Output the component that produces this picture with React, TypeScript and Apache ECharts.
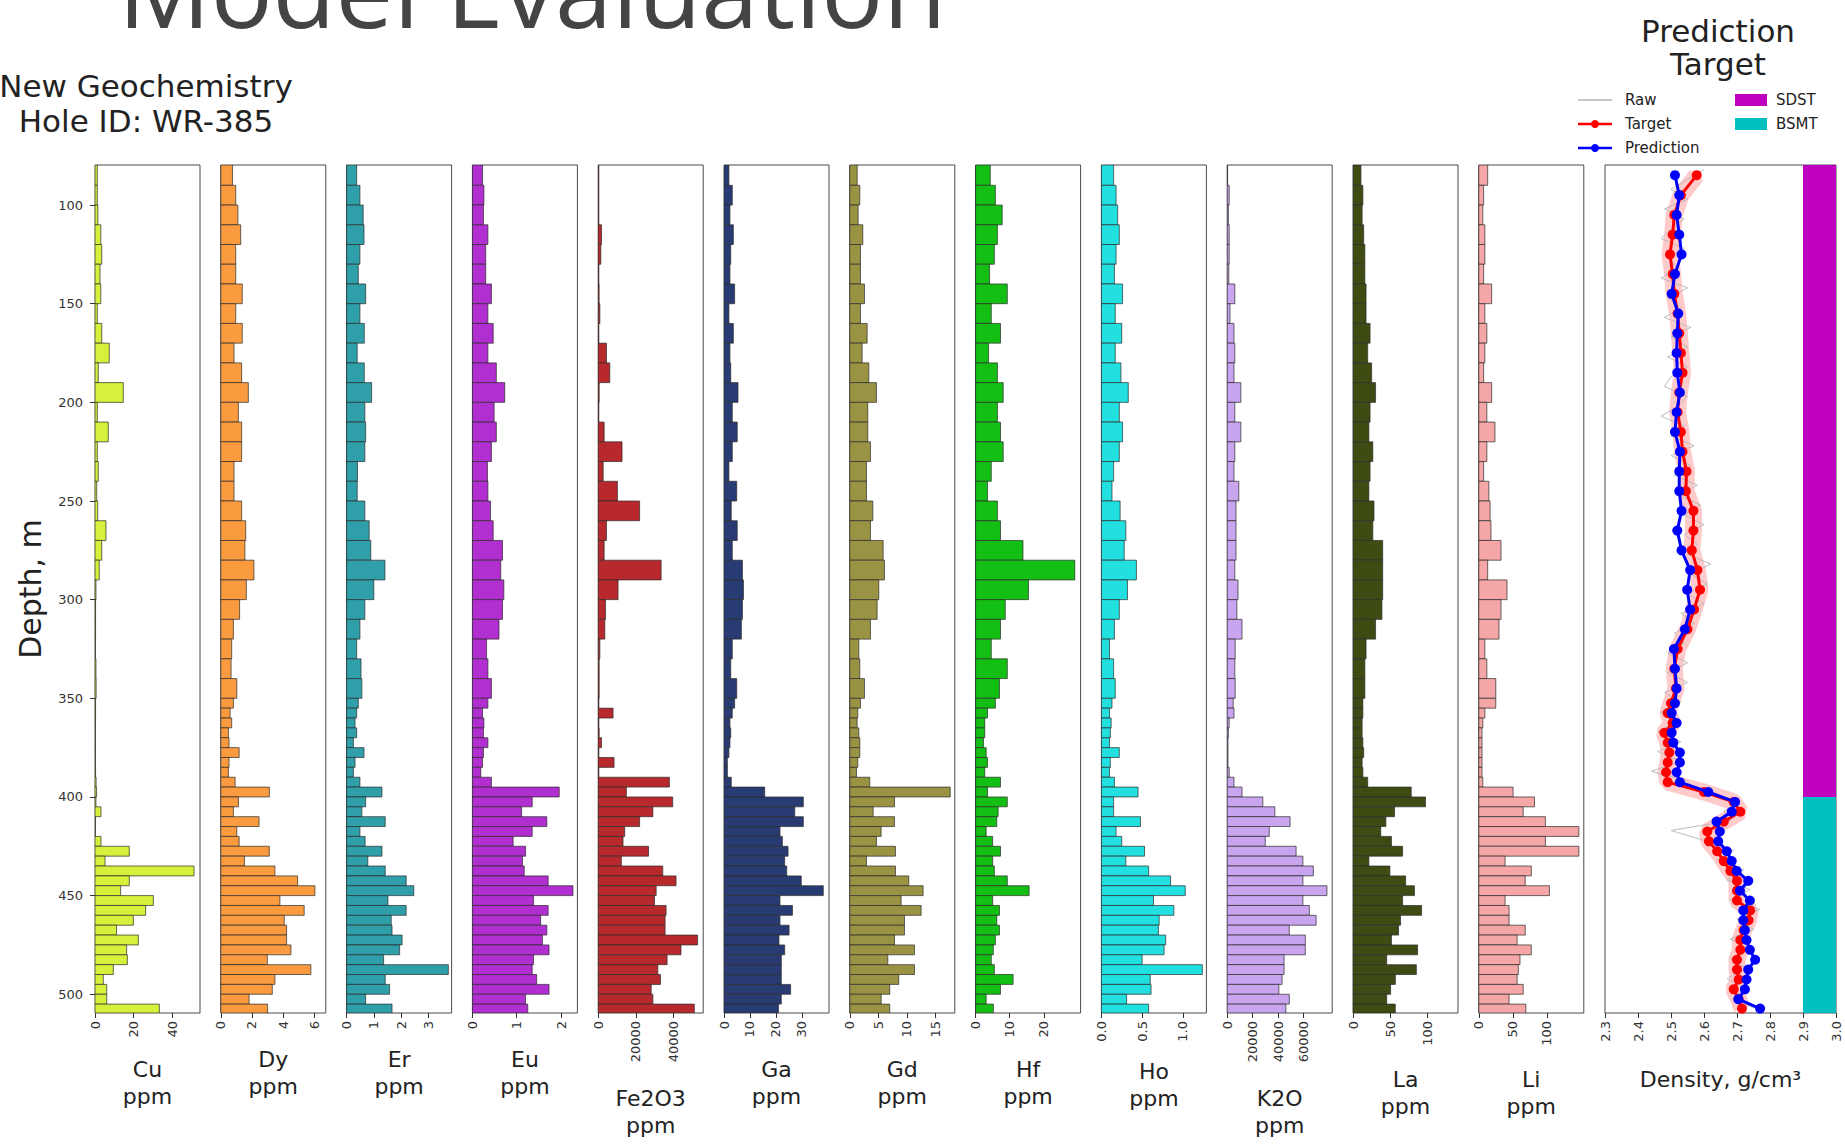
import { useEffect, useRef } from "react";
import * as echarts from "echarts";

const FONT = '"DejaVu Sans", "Liberation Sans", sans-serif';

// Sample intervals (depth, m): 10 m composites down to 350 m, 5 m composites below
const binEdges = [
  79.7, 90, 100, 110, 120, 130, 140, 150, 160, 170, 180, 190, 200, 210, 220, 230, 240, 250, 260,
  270, 280, 290, 300, 310, 320, 330, 340, 350, 355, 360, 365, 370, 375, 380, 385, 390, 395, 400,
  405, 410, 415, 420, 425, 430, 435, 440, 445, 450, 455, 460, 465, 470, 475, 480, 485, 490, 495,
  500, 505, 509.5,
];

// Assays per interval (ppm)
const cu = [
  1.2, 1.2, 1.5, 3.0, 3.5, 2.6, 3.0, 1.2, 3.5, 7.4, 1.7, 14.7, 1.2, 6.9, 1.2, 1.7, 0.9, 1.4, 5.7, 3.5, 2.2, 0.5, 0.3, 0.3, 0.2, 0.5, 0.6,
  0.3, 0.3, 0.2, 0.2, 0.2, 0.2, 0.2, 0.3, 0.6, 0.8, 0.5, 3.1, 0.2, 0.2, 3.1, 17.8, 5.2, 51.4, 17.8, 13.3, 30.3, 26.3, 19.9, 11.2, 22.5, 16.4, 16.8, 9.5, 4.3, 6.1, 6.1, 33.4,
];
const dy = [
  0.75, 0.96, 1.1, 1.28, 0.96, 0.96, 1.38, 0.96, 1.38, 0.85, 1.34, 1.77, 1.13, 1.34, 1.34, 0.85, 0.85, 1.34, 1.6, 1.55, 2.13, 1.64, 1.21, 0.81, 0.7, 0.66, 1.03,
  0.81, 0.6, 0.7, 0.49, 0.53, 1.18, 0.53, 0.49, 0.92, 3.12, 1.13, 0.81, 2.46, 1.03, 1.18, 3.12, 1.52, 3.48, 4.94, 6.05, 3.8, 5.36, 4.08, 4.23, 4.23, 4.51, 2.99, 5.79, 3.48, 3.31, 1.82, 3.01,
];
const er = [
  0.37, 0.49, 0.61, 0.64, 0.49, 0.43, 0.7, 0.49, 0.65, 0.39, 0.65, 0.92, 0.67, 0.7, 0.67, 0.4, 0.39, 0.67, 0.83, 0.89, 1.41, 1.0, 0.67, 0.49, 0.37, 0.53, 0.56,
  0.43, 0.37, 0.31, 0.37, 0.25, 0.64, 0.31, 0.25, 0.49, 1.3, 0.7, 0.56, 1.42, 0.49, 0.68, 1.3, 0.78, 1.42, 2.19, 2.47, 1.52, 2.19, 1.64, 1.67, 2.04, 1.95, 1.36, 3.74, 1.42, 1.58, 0.7, 1.67,
];
const eu = [
  0.23, 0.26, 0.25, 0.35, 0.3, 0.3, 0.43, 0.35, 0.47, 0.35, 0.54, 0.73, 0.49, 0.54, 0.43, 0.34, 0.35, 0.41, 0.47, 0.68, 0.64, 0.71, 0.68, 0.6, 0.32, 0.35, 0.43,
  0.35, 0.23, 0.26, 0.25, 0.35, 0.25, 0.23, 0.19, 0.43, 1.96, 1.35, 1.11, 1.68, 1.35, 0.92, 1.2, 1.13, 1.17, 1.71, 2.27, 1.38, 1.71, 1.54, 1.68, 1.58, 1.73, 1.38, 1.35, 1.45, 1.73, 1.2, 1.25,
];
const fe2o3 = [
  350, 350, 350, 1757, 1400, 350, 500, 880, 350, 4400, 6150, 530, 350, 3160, 12650, 2640, 10190, 21960, 4390, 3160, 33380, 10540, 3870, 3510, 880, 530, 530,
  350, 7900, 350, 530, 1760, 350, 8430, 350, 37780, 14930, 39530, 28990, 21960, 14060, 13180, 26710, 12300, 34260, 41290, 30750, 29870, 36020, 35490, 35490, 52710, 43930, 36550, 31630, 33030, 28110, 29000, 51000,
];
const ga = [
  1.9, 3.2, 2.3, 3.6, 2.6, 2.3, 4.1, 1.9, 3.6, 2.3, 2.6, 5.4, 3.2, 5.1, 3.2, 1.9, 4.9, 2.8, 5.1, 3.2, 7.1, 7.5, 7.1, 6.7, 3.2, 2.6, 4.9,
  4.1, 3.2, 2.3, 2.6, 2.3, 1.9, 1.3, 1.3, 2.8, 15.7, 30.6, 27.3, 30.6, 21.6, 22.5, 24.7, 23.4, 24.2, 29.8, 38.3, 21.6, 26.4, 21.6, 25.1, 21.2, 23.4, 22.1, 22.1, 22.1, 25.7, 22.1, 21.0,
];
const gd = [
  1.3, 1.75, 1.46, 2.28, 1.87, 1.87, 2.57, 1.87, 3.04, 2.16, 3.33, 4.67, 3.15, 3.15, 3.62, 2.92, 2.92, 4.03, 3.62, 5.84, 6.07, 5.08, 4.79, 3.62, 1.58, 1.75, 2.57,
  1.87, 1.4, 1.28, 1.58, 1.75, 1.75, 1.4, 1.17, 3.5, 17.6, 7.83, 4.09, 7.83, 5.49, 4.67, 8.0, 2.92, 8.0, 10.34, 12.85, 8.99, 12.5, 9.58, 9.58, 7.83, 11.33, 6.66, 11.33, 8.58, 7.0, 5.5, 7.0,
];
const hf = [
  4.3, 5.8, 7.8, 6.4, 5.5, 4.1, 9.3, 4.6, 7.3, 3.8, 6.4, 8.1, 6.4, 7.3, 8.1, 4.6, 3.5, 6.4, 7.3, 13.9, 29.1, 15.5, 8.7, 7.3, 4.6, 9.3, 7.0,
  5.8, 3.5, 2.7, 2.7, 2.3, 3.1, 3.5, 2.7, 7.3, 3.5, 9.3, 6.6, 6.2, 3.1, 5.0, 7.3, 5.0, 5.5, 9.3, 15.7, 5.0, 7.0, 6.2, 7.0, 5.8, 5.2, 4.6, 5.5, 11.0, 7.3, 3.1, 5.2,
];
const ho = [
  0.15, 0.18, 0.2, 0.22, 0.18, 0.16, 0.26, 0.17, 0.25, 0.17, 0.24, 0.33, 0.22, 0.26, 0.22, 0.15, 0.13, 0.23, 0.3, 0.28, 0.43, 0.32, 0.22, 0.16, 0.1, 0.15, 0.17,
  0.13, 0.1, 0.12, 0.11, 0.1, 0.22, 0.11, 0.1, 0.16, 0.45, 0.15, 0.15, 0.48, 0.18, 0.25, 0.53, 0.3, 0.58, 0.85, 1.03, 0.64, 0.89, 0.71, 0.7, 0.79, 0.77, 0.5, 1.24, 0.6, 0.61, 0.31, 0.58,
];
const k2o = [
  300, 1570, 940, 1570, 1570, 1260, 5970, 2200, 5340, 5970, 5340, 10680, 5970, 10680, 5970, 5340, 9110, 6910, 6910, 6910, 5970, 8480, 7540, 11620, 6280, 5970, 6280,
  4710, 5340, 1570, 940, 630, 630, 630, 1570, 5340, 11620, 27950, 37370, 49300, 32970, 29830, 54010, 59350, 67510, 59350, 78190, 59350, 64370, 69710, 48670, 61230, 61230, 44590, 44590, 43020, 40510, 48670, 46000,
];
const la = [
  10.7, 13.3, 12.3, 14.4, 16, 16, 17.6, 17.6, 23, 19.8, 25.1, 30.4, 23, 21.4, 26.7, 23, 21.4, 28.3, 26.7, 40, 40, 40, 39, 30.4, 17.6, 16, 16,
  13.3, 13.3, 12.3, 12.3, 13.3, 14.4, 12.3, 13.3, 19.8, 78.5, 97.7, 56, 44.3, 37.4, 51.8, 66.8, 21.4, 49.7, 71, 82.8, 66.8, 92.4, 64.1, 61.4, 51.8, 87, 45.4, 85.4, 57.1, 50.7, 45.4, 57,
];
const li = [
  13, 7.1, 5.9, 8.9, 8.9, 7.1, 18.9, 8.9, 11.8, 8.9, 7.1, 18.9, 11.8, 23.7, 11.8, 7.1, 14.8, 16.6, 17.8, 32.6, 13, 41.4, 32.6, 29.6, 8.9, 11.8, 24.9,
  24.9, 8.9, 5.9, 4.7, 4.7, 4.7, 4.7, 4.7, 5.9, 50.3, 81.7, 65.1, 97.7, 146.8, 97.7, 146.8, 38.5, 77, 68.1, 103.6, 38.5, 44.4, 44.4, 68.1, 56.2, 77, 60.4, 58, 56.2, 65.1, 44.4, 69,
];

// Density per interval (g/cm3): target log and model prediction
const densityTarget = [
  2.578, 2.53, 2.51, 2.505, 2.497, 2.505, 2.51, 2.52, 2.525, 2.53, 2.535, 2.525, 2.52, 2.53, 2.535, 2.547, 2.545, 2.568, 2.568, 2.563, 2.58, 2.588, 2.57, 2.55, 2.52, 2.51, 2.515,
  2.5, 2.49, 2.505, 2.48, 2.49, 2.495, 2.49, 2.485, 2.49, 2.6, 2.69, 2.71, 2.66, 2.61, 2.615, 2.64, 2.66, 2.68, 2.7, 2.7, 2.7, 2.74, 2.735, 2.72, 2.71, 2.71, 2.7, 2.7, 2.705, 2.69, 2.705, 2.715,
];
const densityPrediction = [
  2.512, 2.525, 2.517, 2.525, 2.532, 2.512, 2.502, 2.522, 2.519, 2.517, 2.519, 2.527, 2.517, 2.512, 2.527, 2.525, 2.525, 2.532, 2.519, 2.532, 2.558, 2.549, 2.558, 2.542, 2.509, 2.512, 2.517,
  2.512, 2.502, 2.517, 2.502, 2.507, 2.527, 2.527, 2.517, 2.527, 2.613, 2.694, 2.684, 2.638, 2.648, 2.643, 2.669, 2.684, 2.699, 2.734, 2.709, 2.739, 2.719, 2.719, 2.724, 2.729, 2.739, 2.755, 2.734, 2.729, 2.724, 2.704, 2.77,
];

// Raw density log
const rawDepth = [
  82, 87, 92, 97, 102, 107, 112, 117, 122, 127, 132, 137, 142, 147, 152, 157, 162, 167, 172, 177,
  182, 187, 192, 197, 202, 207, 212, 217, 222, 227, 232, 237, 242, 247, 252, 257, 262, 267, 272, 277,
  282, 287, 292, 297, 302, 307, 312, 317, 322, 327, 332, 337, 342, 347, 352, 357, 362, 367, 372, 377,
  382, 387, 392, 397, 402, 407, 412, 417, 422, 427, 432, 437, 442, 447, 452, 457, 462, 467, 472, 477,
  482, 487, 492, 497, 502, 507,
];
const rawDensity = [
  2.6, 2.55, 2.5, 2.55, 2.48, 2.54, 2.5, 2.47, 2.54, 2.49, 2.52, 2.47, 2.55, 2.49, 2.53, 2.48, 2.56, 2.5, 2.55, 2.49,
  2.55, 2.5, 2.48, 2.55, 2.52, 2.47, 2.54, 2.5, 2.57, 2.5, 2.56, 2.51, 2.58, 2.52, 2.59, 2.54, 2.6, 2.54, 2.58, 2.55,
  2.62, 2.56, 2.61, 2.55, 2.6, 2.53, 2.57, 2.51, 2.54, 2.49, 2.55, 2.49, 2.55, 2.48, 2.53, 2.47, 2.52, 2.46, 2.53, 2.46,
  2.53, 2.44, 2.55, 2.58, 2.71, 2.66, 2.68, 2.5, 2.6, 2.69, 2.64, 2.72, 2.67, 2.74, 2.68, 2.77, 2.7, 2.75, 2.68, 2.74,
  2.68, 2.73, 2.67, 2.72, 2.69, 2.75,
];

// Lithology column
const lithNames = ["SDST", "BSMT"];
const lithTop = [79.7, 400];
const lithBottom = [400, 509.5];
const lithColors = ["#bf00bf", "#00bfbf"];

const depthTicks = [100, 150, 200, 250, 300, 350, 400, 450, 500];
const densityTicks = [2.3, 2.4, 2.5, 2.6, 2.7, 2.8, 2.9, 3.0];

type Panel = {
  name: string;
  values: number[];
  color: string;
  max: number;
  ticks: number[];
  gap: number;
  decimals?: number;
};

const panels: Panel[] = [
  { name: "Cu", values: cu, color: "#d6f03c", max: 54.5, ticks: [0, 20, 40], gap: 43 },
  { name: "Dy", values: dy, color: "#f99b3e", max: 6.75, ticks: [0, 2, 4, 6], gap: 33 },
  { name: "Er", values: er, color: "#2f9faa", max: 3.86, ticks: [0, 1, 2, 3], gap: 33 },
  { name: "Eu", values: eu, color: "#b12fd0", max: 2.37, ticks: [0, 1, 2], gap: 33 },
  { name: "Fe2O3", values: fe2o3, color: "#b8292e", max: 55700, ticks: [0, 20000, 40000], gap: 72 },
  { name: "Ga", values: ga, color: "#283b72", max: 40.5, ticks: [0, 10, 20, 30], gap: 43 },
  { name: "Gd", values: gd, color: "#9b9344", max: 18.4, ticks: [0, 5, 10, 15], gap: 43 },
  { name: "Hf", values: hf, color: "#13bf13", max: 30.8, ticks: [0, 10, 20], gap: 43 },
  { name: "Ho", values: ho, color: "#22e0e0", max: 1.29, ticks: [0, 0.5, 1.0], gap: 45, decimals: 1 },
  { name: "K2O", values: k2o, color: "#c9a4ef", max: 82300, ticks: [0, 20000, 40000, 60000], gap: 72 },
  { name: "La", values: la, color: "#3e4c14", max: 141.5, ticks: [0, 50, 100], gap: 53 },
  { name: "Li", values: li, color: "#f5a6a6", max: 154, ticks: [0, 50, 100], gap: 53 },
];

const GRID_TOP = 165;
const GRID_HEIGHT = 848;
const PANEL_LEFT0 = 95;
const PANEL_STEP = 125.8;
const PANEL_WIDTH = 105;
const DENS_LEFT = 1605;
const DENS_WIDTH = 231;

const depthMin = binEdges[0];
const depthMax = binEdges[binEdges.length - 1];
const binCenters = binEdges.slice(0, -1).map((d, i) => (d + binEdges[i + 1]) / 2);

const tickLabelStyle = { fontSize: 13, color: "#333", fontFamily: FONT };
const axisNameStyle = { fontSize: 22, lineHeight: 27, color: "#222", fontFamily: FONT };

function buildOption(): echarts.EChartsCoreOption {
  const grid: any[] = [];
  const xAxis: any[] = [];
  const yAxis: any[] = [];
  const series: any[] = [];

  panels.forEach((p, i) => {
    grid.push({
      left: PANEL_LEFT0 + PANEL_STEP * i,
      top: GRID_TOP,
      width: PANEL_WIDTH,
      height: GRID_HEIGHT,
      show: true,
      borderColor: "#4a4a4a",
      borderWidth: 1,
    });
    xAxis.push({
      gridIndex: i,
      type: "value",
      min: 0,
      max: p.max,
      axisLine: { show: false },
      splitLine: { show: false },
      axisTick: { show: true, customValues: p.ticks, length: 5, lineStyle: { color: "#333" } },
      axisLabel: {
        ...tickLabelStyle,
        customValues: p.ticks,
        rotate: 90,
        margin: 8,
        formatter: (v: number) => (p.decimals ? v.toFixed(p.decimals) : String(v)),
      },
      name: `${p.name}\nppm`,
      nameLocation: "middle",
      nameGap: p.gap,
      nameTextStyle: axisNameStyle,
    });
    yAxis.push({
      gridIndex: i,
      type: "value",
      min: depthMin,
      max: depthMax,
      inverse: true,
      axisLine: { show: false },
      splitLine: { show: false },
      axisTick: { show: i === 0, customValues: depthTicks, length: 5, lineStyle: { color: "#333" } },
      axisLabel: { show: i === 0, customValues: depthTicks, margin: 12, ...tickLabelStyle },
      name: i === 0 ? "Depth, m" : "",
      nameLocation: "middle",
      nameRotate: 90,
      nameGap: 50,
      nameTextStyle: { fontSize: 30, color: "#222", fontFamily: FONT },
    });
    series.push({
      type: "custom",
      name: p.name,
      xAxisIndex: i,
      yAxisIndex: i,
      clip: true,
      encode: { x: 0, y: [1, 2] },
      data: p.values.map((v, k) => [v, binEdges[k], binEdges[k + 1]]),
      renderItem: (_params: any, api: any) => {
        const p0 = api.coord([0, api.value(1)]);
        const p1 = api.coord([api.value(0), api.value(2)]);
        return {
          type: "rect",
          shape: { x: p0[0], y: p0[1], width: p1[0] - p0[0], height: p1[1] - p0[1] },
          style: { fill: p.color, stroke: "#2b2b2b", lineWidth: 0.7 },
        };
      },
    });
  });

  // Density track
  const di = panels.length;
  grid.push({
    left: DENS_LEFT,
    top: GRID_TOP,
    width: DENS_WIDTH,
    height: GRID_HEIGHT,
    show: true,
    borderColor: "#4a4a4a",
    borderWidth: 1,
  });
  xAxis.push({
    gridIndex: di,
    type: "value",
    min: 2.3,
    max: 3.0,
    axisLine: { show: false },
    splitLine: { show: false },
    axisTick: { show: true, customValues: densityTicks, length: 5, lineStyle: { color: "#333" } },
    axisLabel: {
      ...tickLabelStyle,
      customValues: densityTicks,
      rotate: 90,
      margin: 8,
      formatter: (v: number) => v.toFixed(1),
    },
    name: "Density, g/cm³",
    nameLocation: "middle",
    nameGap: 53,
    nameTextStyle: axisNameStyle,
  });
  yAxis.push({
    gridIndex: di,
    type: "value",
    min: depthMin,
    max: depthMax,
    inverse: true,
    axisLine: { show: false },
    splitLine: { show: false },
    axisTick: { show: false },
    axisLabel: { show: false },
  });

  series.push({
    type: "custom",
    name: "Lithology",
    xAxisIndex: di,
    yAxisIndex: di,
    clip: true,
    encode: { x: [0, 1], y: [2, 3] },
    data: lithNames.map((_n, k) => [2.9, 3.0, lithTop[k], lithBottom[k], k]),
    renderItem: (_params: any, api: any) => {
      const p0 = api.coord([api.value(0), api.value(2)]);
      const p1 = api.coord([api.value(1), api.value(3)]);
      return {
        type: "rect",
        shape: { x: p0[0], y: p0[1], width: p1[0] - p0[0], height: p1[1] - p0[1] },
        style: { fill: lithColors[api.value(4)] },
      };
    },
  });

  const targetPts = densityTarget.map((v, k) => [v, binCenters[k]]);
  const predPts = densityPrediction.map((v, k) => [v, binCenters[k]]);

  series.push({
    type: "line",
    name: "Target band",
    xAxisIndex: di,
    yAxisIndex: di,
    data: targetPts,
    symbol: "none",
    lineStyle: { color: "rgba(255,80,80,0.3)", width: 17 },
    z: 2,
  });
  series.push({
    type: "line",
    name: "Raw",
    xAxisIndex: di,
    yAxisIndex: di,
    data: rawDensity.map((v, k) => [v, rawDepth[k]]),
    symbol: "none",
    lineStyle: { color: "#b4b4b4", width: 0.9 },
    z: 3,
  });
  series.push({
    type: "line",
    name: "Target",
    xAxisIndex: di,
    yAxisIndex: di,
    data: targetPts,
    symbol: "circle",
    symbolSize: 10,
    showSymbol: true,
    lineStyle: { color: "#ff0000", width: 3 },
    itemStyle: { color: "#ff0000" },
    z: 4,
  });
  series.push({
    type: "line",
    name: "Prediction",
    xAxisIndex: di,
    yAxisIndex: di,
    data: predPts,
    symbol: "circle",
    symbolSize: 10,
    showSymbol: true,
    lineStyle: { color: "#0000ff", width: 3 },
    itemStyle: { color: "#0000ff" },
    z: 5,
  });

  const txt = (
    text: string,
    x: number,
    y: number,
    size: number,
    align: string,
    fill = "#222",
    family = FONT,
    lineHeight?: number
  ) => ({
    type: "text",
    x,
    y,
    style: {
      text,
      fontSize: size,
      fontFamily: family,
      fill,
      align,
      textAlign: align,
      verticalAlign: "middle",
      textVerticalAlign: "middle",
      lineHeight: lineHeight ?? Math.round(size * 1.2),
    },
  });

  const graphic: any[] = [
    txt("Model Evaluation", 118, -12, 103, "left", "#444", '"Open Sans", "Noto Sans", sans-serif'),
    txt("New Geochemistry\nHole ID: WR-385", 146, 103, 31, "center", "#222", FONT, 35),
    txt("Prediction\nTarget", 1718, 47, 31, "center", "#222", FONT, 33),
    // legend: lines
    { type: "line", shape: { x1: 1578, y1: 100, x2: 1612, y2: 100 }, style: { stroke: "#b5b5b5", lineWidth: 1.5 } },
    { type: "line", shape: { x1: 1578, y1: 124, x2: 1612, y2: 124 }, style: { stroke: "#ff0000", lineWidth: 2.5 } },
    { type: "circle", shape: { cx: 1595, cy: 124, r: 4 }, style: { fill: "#ff0000" } },
    { type: "line", shape: { x1: 1578, y1: 148, x2: 1612, y2: 148 }, style: { stroke: "#0000ff", lineWidth: 2.5 } },
    { type: "circle", shape: { cx: 1595, cy: 148, r: 4 }, style: { fill: "#0000ff" } },
    txt("Raw", 1625, 100, 15, "left"),
    txt("Target", 1625, 124, 15, "left"),
    txt("Prediction", 1625, 148, 15, "left"),
    // legend: lithology patches
    { type: "rect", shape: { x: 1735, y: 94, width: 32, height: 12 }, style: { fill: lithColors[0] } },
    { type: "rect", shape: { x: 1735, y: 118, width: 32, height: 12 }, style: { fill: lithColors[1] } },
    txt(lithNames[0], 1776, 100, 15, "left"),
    txt(lithNames[1], 1776, 124, 15, "left"),
  ];

  return {
    animation: false,
    backgroundColor: "#ffffff",
    grid,
    xAxis,
    yAxis,
    series,
    graphic,
  };
}

export default function App() {
  const ref = useRef<HTMLDivElement | null>(null);
  useEffect(() => {
    if (!ref.current) return;
    const chart = echarts.init(ref.current, undefined, { renderer: "svg" });
    chart.setOption(buildOption());
    return () => chart.dispose();
  }, []);
  return (
    <div
      ref={ref}
      style={{ position: "fixed", left: 0, top: 0, width: 1845, height: 1146, background: "#fff" }}
    />
  );
}
